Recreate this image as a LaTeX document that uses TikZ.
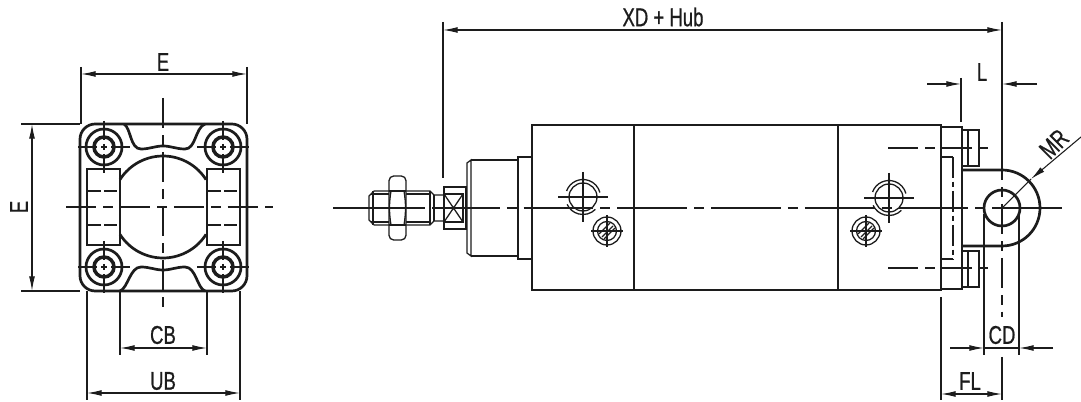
\documentclass[tikz,border=0pt]{standalone}
\usepackage{fontspec}
\setmainfont[FakeStretch=0.72,FakeBold=0.7]{Liberation Sans}
\usetikzlibrary{arrows.meta}
\definecolor{ink}{HTML}{1C1C1C}

\begin{document}
\begin{tikzpicture}[x=0.03cm,y=-0.03cm,ink]
\tikzstyle{every node}+=[font=\fontsize{22}{24}\selectfont,text=ink,inner sep=0pt]
\tikzstyle{thin line}=[line width=1.1pt]
\tikzstyle{thick line}=[line width=2.3pt]
\tikzstyle{axis}=[line width=0.9pt,dash pattern=on 26pt off 6pt on 8pt off 6pt]
\tikzstyle{main axis}=[line width=1pt,dash pattern=on 59.5pt off 6pt on 8.5pt off 6pt,dash phase=1.7pt]
\tikzstyle{dim}=[line width=0.9pt,>={Latex[length=12.5pt,width=5pt]}]
\useasboundingbox (0,0) rectangle (1081,402);

% front view
\draw[thick line,rounded corners=13pt] (80,124) rectangle (247,291);
\draw[thick line] (124,124) .. controls (131,128) and (130,149) .. (141,149) .. controls (150,149) and (155,146) .. (163,146) .. controls (171,146) and (176,149) .. (185,149) .. controls (196,149) and (195,128) .. (205,124);
\draw[thick line] (120,291) .. controls (128,288) and (130,267) .. (141,267) .. controls (150,267) and (155,270) .. (163,270) .. controls (171,270) and (176,267) .. (185,267) .. controls (196,267) and (197,288) .. (205,291);
\draw[thick line] (87,169) rectangle (120,245);
\draw[thick line] (207,169) rectangle (240,245);
\draw[thick line] (163,207) ++(212.5:51) arc[start angle=212.5,end angle=327.5,radius=51];
\draw[thick line] (163,207) ++(147.5:51) arc[start angle=147.5,end angle=32.5,radius=51];
\foreach \yy in {191,225} {
  \draw[thin line,dash pattern=on 11pt off 3pt] (88,\yy) -- (120,\yy);
  \draw[thin line,dash pattern=on 11pt off 3pt] (208,\yy) -- (240,\yy);
}
\foreach \xx/\yy in {104/147,223/147,104/267,223/267} {
  \draw[thick line] (\xx,\yy) circle[radius=18];
  \draw[line width=3pt] (\xx,\yy) circle[radius=10];
  \draw[thin line] (\xx-26,\yy) -- (\xx-7,\yy) (\xx-3,\yy) -- (\xx+3,\yy) (\xx+7,\yy) -- (\xx+26,\yy);
  \draw[thin line] (\xx,\yy-26) -- (\xx,\yy-7) (\xx,\yy-3) -- (\xx,\yy+3) (\xx,\yy+7) -- (\xx,\yy+26);
}
\draw[axis] (66,207) -- (273,207);
\draw[axis] (163,98) -- (163,307);

% front view dimensions
\coordinate (efl) at (81,74);
\coordinate (efr) at (247,74);
\coordinate (est) at (32,124);
\coordinate (esb) at (32,291);
\coordinate (cbl) at (120,348);
\coordinate (cbr) at (207,348);
\coordinate (ubl) at (87,393);
\coordinate (ubr) at (240,393);
\draw[dim] (81,67) -- (81,124) (247,67) -- (247,124);
\draw[dim] (21,124) -- (80,124) (21,291) -- (80,291);
\draw[dim] (120,291) -- (120,355) (207,291) -- (207,355);
\draw[dim] (87,291) -- (87,400) (240,291) -- (240,400);
\path[dim,<->]
  (efl) edge (efr)
  (est) edge (esb)
  (cbl) edge (cbr)
  (ubl) edge (ubr)
;
\node (efront) at (163,62) {E};
\node (eside) at (19,207) [rotate=90] {E};
\node (cb) at (163,335) {CB};
\node (ub) at (163,381) {UB};

% side view: rod
\draw[thin line] (374,191) -- (430,191) -- (434,195) -- (444,195);
\draw[thin line] (374,225) -- (430,225) -- (434,221) -- (444,221);
\draw[thin line] (374,191) -- (369,196) -- (369,220) -- (374,225);
\draw[thin line] (373,191) -- (373,225) (430,191) -- (430,225) (434,195) -- (434,221);
\draw[thin line] (371,194) -- (430,194) (371,222) -- (430,222);
\draw[thin line,fill=white,rounded corners=4pt] (389,176) rectangle (406,240);
\draw[thin line] (389,191) -- (406,191) (389,225) -- (406,225);
\draw[thin line] (391,191) .. controls (389,203) and (389,213) .. (391,225);
\draw[thin line] (404,191) .. controls (406,203) and (406,213) .. (404,225);
\draw[thin line] (444,187) rectangle (466,229);
\draw[thin line] (444,194) rectangle (463,222);
\draw[thin line] (444,194) -- (463,222) (444,222) -- (463,194);

% side view: body
\draw[thin line] (471,160) -- (518,160) (471,256) -- (518,256);
\draw[thin line] (467,163) -- (471,160) -- (471,256) -- (467,253) -- cycle;
\draw[thin line] (518,157) rectangle (532,259);
\draw[thin line] (532,125) rectangle (941,290);
\draw[thin line] (634,125) -- (634,290) (838,125) -- (838,290);

% ports
\foreach \xx/\yy in {583/197,889/198} {
  \draw[thin line] (\xx,\yy) circle[radius=14];
  \draw[thin line] (\xx,\yy) ++(-160:17.5) arc[start angle=-160,end angle=-15,radius=17.5];
  \draw[thin line] (\xx,\yy) ++(45:17.5) arc[start angle=45,end angle=155,radius=17.5];
  \draw[dim] (\xx-25,\yy) -- (\xx+25,\yy) (\xx,\yy-25) -- (\xx,\yy+25);
}
\foreach \xx/\yy in {607/231,866/231} {
  \draw[thin line] (\xx,\yy) circle[radius=14];
  \draw[thin line] (\xx,\yy) circle[radius=9.5];
  \draw[dim] (\xx-16,\yy) -- (\xx+16,\yy) (\xx,\yy-16) -- (\xx,\yy+16);
  \draw[thin line] (\xx-8,\yy+3) -- (\xx+3,\yy-8) (\xx-5,\yy+6) -- (\xx+6,\yy-5) (\xx-3,\yy+8) -- (\xx+8,\yy-3);
}

% side view: end cap and eye
\draw[thick line] (941,127) rectangle (962,289);
\draw[thick line] (962,130) -- (979,130) -- (979,166) -- (962,166);
\draw[thick line] (962,251) -- (979,251) -- (979,287) -- (962,287);
\draw[thin line] (968,130) -- (968,166) (968,251) -- (968,287);
\draw[thin line] (942,157) -- (953,157) (942,259) -- (953,259);
\draw[thin line,dash pattern=on 18pt off 3pt on 5pt off 3pt] (953,157) -- (953,259);
\draw[thick line] (962,170) -- (1002,170) arc[start angle=-90,end angle=90,radius=38] -- (962,246);
\draw[thick line] (1002,208) circle[radius=18];
\draw[axis] (888,148) -- (988,148);
\draw[axis] (888,268) -- (988,268);
\draw[dim] (333,208) -- (425,208);
\draw[main axis] (432,208) -- (1069,208);

% side view dimensions
\coordinate (xdl) at (443,30);
\coordinate (xdr) at (1002,30);
\coordinate (ll) at (927,84);
\coordinate (lm) at (961,84);
\coordinate (lr) at (1037,84);
\coordinate (lc) at (1002,84);
\coordinate (cdl) at (950,348);
\coordinate (cdm) at (984,348);
\coordinate (cdr) at (1053,348);
\coordinate (cdc) at (1019,348);
\coordinate (fll) at (941,394);
\coordinate (flr) at (1002,394);
\coordinate (mrout) at (1081,137);
\coordinate (mrtip) at (1031,179);
\coordinate (mrc) at (1002,208);
\draw[dim] (443,22) -- (443,178);
\draw[dim] (1002,22) -- (1002,150);
\draw[axis] (1002,150) -- (1002,317);
\draw[dim] (1002,357) -- (1002,400);
\draw[dim] (961,78) -- (961,122);
\draw[dim] (984,214) -- (984,355) (1019,214) -- (1019,355);
\draw[dim] (941,297) -- (941,400);
\draw[dim] (cdm) -- (cdc);
\draw[dim] (mrtip) -- (mrc);
\path[dim,<->]
  (xdl) edge (xdr)
  (fll) edge (flr)
;
\path[dim,->]
  (ll) edge (lm)
  (lr) edge (lc)
  (cdl) edge (cdm)
  (cdr) edge (cdc)
  (mrout) edge (mrtip)
;
\node (xd) at (663,17) {XD + Hub};
\node (l) at (982,72) {L};
\node (mr) at (1054,144) [rotate=45] {MR};
\node (cd) at (1002,335) {CD};
\node (fl) at (970,381) {FL};
\end{tikzpicture}
\end{document}
